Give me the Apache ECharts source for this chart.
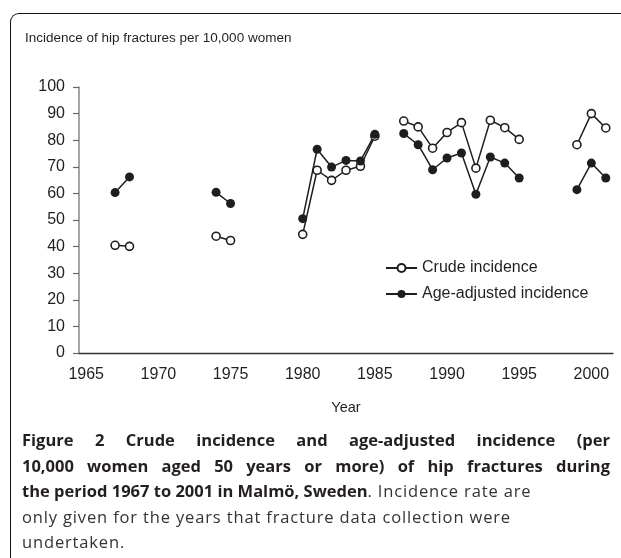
<!DOCTYPE html>
<html>
<head>
<meta charset="utf-8">
<script src="https://cdn.jsdelivr.net/npm/echarts@6/dist/echarts.min.js"></script>
<style>
  html, body { margin: 0; padding: 0; background: #fff; }
  #wrap { position: relative; width: 621px; height: 558px; overflow: hidden; }
  #frame { position: absolute; left: 10px; top: 13px; width: 700px; height: 600px;
           border-top: 1.5px solid #111; border-left: 1.5px solid #111; border-top-left-radius: 9px; }
  #chart { position: absolute; left: 0; top: 0; width: 621px; height: 558px; }
  #caption { position: absolute; left: 22px; top: 427px; width: 588px;
             font-family: "Open Sans", sans-serif; font-size: 16.5px; line-height: 25.5px; color: #231f20; }
  #caption b { font-weight: 700; }
  #caption .light { font-weight: 400; color: #333; font-size: 16.5px; letter-spacing: 0.85px; }
  .jl { text-align: justify; text-align-last: justify; white-space: nowrap; }
</style>
</head>
<body>
<div id="wrap">
  <div id="frame"></div>
  <div id="chart"></div>
  <div id="caption">
    <div class="jl"><b>Figure 2 Crude incidence and age-adjusted incidence (per</b></div>
    <div class="jl"><b>10,000 women aged 50 years or more) of hip fractures during</b></div>
    <div><b>the period 1967 to 2001 in Malmö, Sweden</b><span class="light">. Incidence rate are</span></div>
    <div class="light">only given for the years that fracture data collection were</div>
    <div class="light">undertaken.</div>
  </div>
</div>
<script>
// categories: every year on the axis, one band each
const years = ['1965', '1966', '1967', '1968', '1969', '1970', '1971', '1972', '1973', '1974',
               '1975', '1976', '1977', '1978', '1979', '1980', '1981', '1982', '1983', '1984',
               '1985', '1986', '1987', '1988', '1989', '1990', '1991', '1992', '1993', '1994',
               '1995', '1996', '1997', '1998', '1999', '2000', '2001'];

// null = no data collected that year
const crude = [null, null, 40.5, 40.1, null, null, null, null, null, 43.9,
               42.3, null, null, null, null, 44.6, 68.7, 64.9, 68.7, 70.2,
               81.5, null, 87.2, 85.0, 77.0, 82.9, 86.6, 69.5, 87.5, 84.7,
               80.3, null, null, null, 78.3, 90.0, 84.6];

const ageAdjusted = [null, null, 60.3, 66.2, null, null, null, null, null, 60.4,
                     56.2, null, null, null, null, 50.5, 76.6, 69.9, 72.4, 72.2,
                     82.2, null, 82.5, 78.3, 68.9, 73.3, 75.2, 59.7, 73.7, 71.4,
                     65.8, null, null, null, 61.4, 71.4, 65.8];

const ink = '#1e1e1e';
const font = 'Liberation Sans, Arial, sans-serif';

const chart = echarts.init(document.getElementById('chart'));

chart.setOption({
    animation: false,
    title: {
        text: 'Incidence of hip fractures per 10,000 women',
        left: 20,
        top: 26,
        textStyle: { fontFamily: font, fontSize: 13.5, fontWeight: 'normal', color: '#231f20' }
    },
    legend: {
        orient: 'vertical',
        left: 380,
        top: 255,
        itemWidth: 31,
        itemHeight: 10,
        itemGap: 10,
        textStyle: { fontFamily: font, fontSize: 16, color: '#231f20' },
        data: ['Crude incidence', 'Age-adjusted incidence']
    },
    grid: { left: 79, right: 8, top: 87, bottom: 205, containLabel: false },
    xAxis: {
        type: 'category',
        data: years,
        boundaryGap: true,
        name: 'Year',
        nameLocation: 'middle',
        nameGap: 47,
        nameTextStyle: { fontFamily: font, fontSize: 14.5, color: '#231f20' },
        axisLine: { lineStyle: { color: '#333', width: 1.3 } },
        axisTick: { interval: 0, length: 6, lineStyle: { color: '#333', width: 1.2 } },
        axisLabel: { interval: 4, margin: 14, fontFamily: font, fontSize: 16, color: '#231f20' },
        splitLine: { show: false }
    },
    yAxis: {
        type: 'value',
        min: 0,
        max: 100,
        interval: 10,
        axisLine: { show: true, lineStyle: { color: '#888', width: 1.5 } },
        axisTick: { show: true, length: 6, lineStyle: { color: '#666', width: 1.2 } },
        axisLabel: { margin: 14, fontFamily: font, fontSize: 16, color: '#231f20' },
        splitLine: { show: false }
    },
    series: [
        {
            name: 'Crude incidence',
            type: 'line',
            data: crude,
            connectNulls: false,
            symbol: 'circle',
            symbolSize: 8,
            lineStyle: { color: ink, width: 1.5 },
            itemStyle: { color: '#fff', borderColor: ink, borderWidth: 1.6 },
            emphasis: { disabled: true }
        },
        {
            name: 'Age-adjusted incidence',
            type: 'line',
            data: ageAdjusted,
            connectNulls: false,
            symbol: 'circle',
            symbolSize: 9,
            lineStyle: { color: ink, width: 1.5 },
            itemStyle: { color: ink, borderColor: ink, borderWidth: 0 },
            emphasis: { disabled: true }
        }
    ]
});
</script>
</body>
</html>
